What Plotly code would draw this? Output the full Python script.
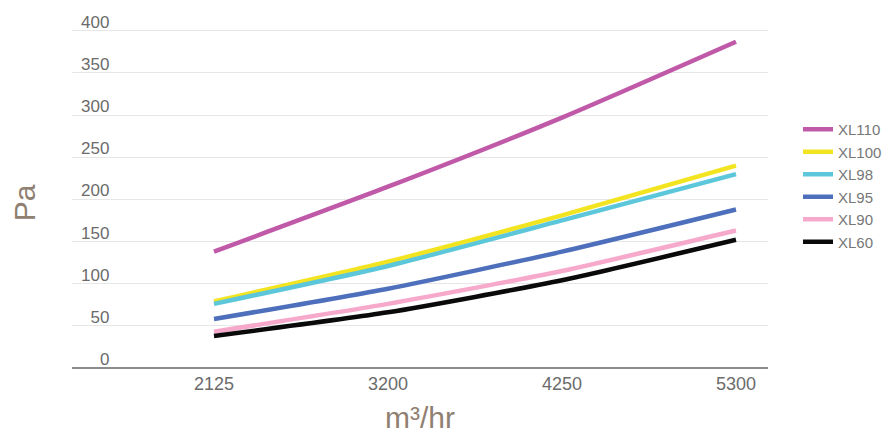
import plotly.graph_objects as go

flow = ["2125", "3200", "4250", "5300"]
xl110 = [138, 215, 297, 387]
xl100 = [79, 126, 181, 240]
xl98 = [76, 121, 175, 230]
xl95 = [58, 94, 138, 188]
xl90 = [43, 76, 115, 163]
xl60 = [38, 66, 104, 152]

series = [
    ("XL110", xl110, "#c05aa8"),
    ("XL100", xl100, "#f3e421"),
    ("XL98", xl98, "#5cc7da"),
    ("XL95", xl95, "#4e6fbb"),
    ("XL90", xl90, "#f6a9cb"),
    ("XL60", xl60, "#0a0a0a"),
]

y_ticks = [0, 50, 100, 150, 200, 250, 300, 350, 400]
FS = "\u2007"
y_ticktext = [FS * (3 - len(str(v))) + str(v) for v in y_ticks]

# the page body has an 8px default margin, so the figure is 882x426
W, H, OFF = 882, 426, 8

fig = go.Figure()
for name, vals, color in series:
    fig.add_trace(go.Scatter(
        x=flow, y=vals, name=name, mode="lines",
        line=dict(color=color, width=4.5, shape="spline", smoothing=0.6),
    ))

fig.update_layout(
    width=W, height=H,
    margin=dict(l=72 - OFF, r=890 - 768, t=0, b=434 - 373),
    paper_bgcolor="white", plot_bgcolor="white",
    font=dict(family="Liberation Sans, Arial, sans-serif", color="#6b6b6b"),
    showlegend=True,
    legend=dict(
        xref="container", yref="container",
        x=(798 - OFF) / W, y=1 - (113 - OFF) / H, xanchor="left", yanchor="top",
        font=dict(size=15, color="#777777"),
        bgcolor="rgba(0,0,0,0)", itemwidth=30,
    ),
)

fig.update_xaxes(
    type="category", range=[-0.816, 3.184], automargin=False,
    showgrid=False, zeroline=False, showline=False,
    ticks="", tickfont=dict(size=18, color="#6b6b6b"), ticklabelstandoff=-2,
    title=dict(text="m³/hr", font=dict(size=30, color="#8f8071"), standoff=19),
)

fig.update_yaxes(
    range=[-6, 427], tickvals=y_ticks, ticktext=y_ticktext, automargin=False,
    ticklabelposition="inside top", ticklabelstandoff=6, ticklabelshift=3,
    showgrid=True, gridcolor="#e6e6e6", gridwidth=1.2,
    zeroline=True, zerolinecolor="#8c8c8c", zerolinewidth=1.5,
    showline=False, ticks="",
    tickfont=dict(size=17, color="#6b6b6b"),
    title=dict(text="Pa<span style='color:rgba(0,0,0,0)'>xr</span>",
               font=dict(size=30, color="#8f8071"), standoff=44),
)

fig.write_html("out.html")
